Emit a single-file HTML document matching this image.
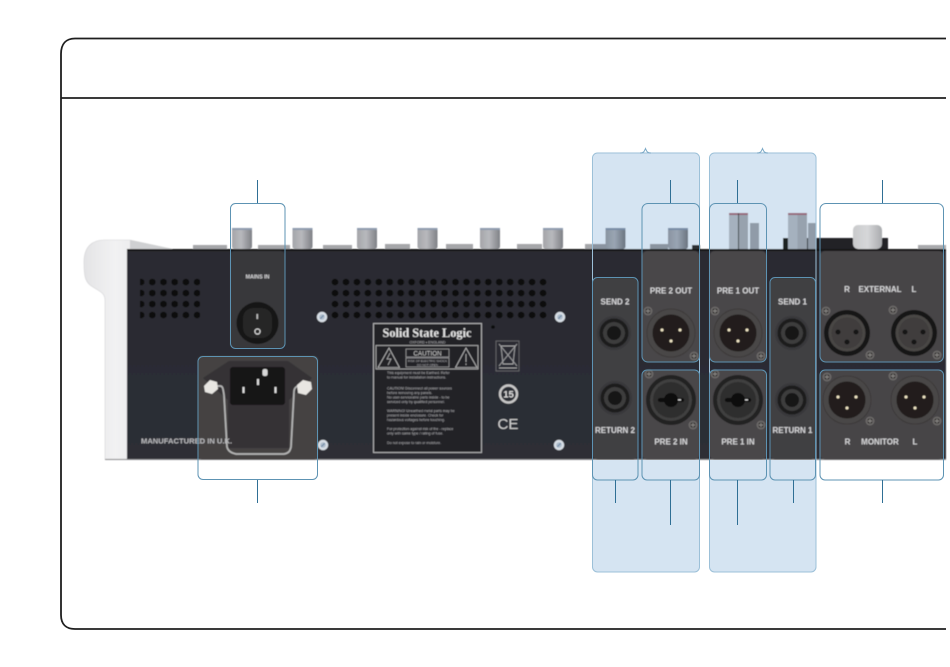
<!DOCTYPE html>
<html><head><meta charset="utf-8"><style>
html,body{margin:0;padding:0;background:#fff;width:950px;height:667px;overflow:hidden}
svg{display:block;position:absolute;left:0;top:0}
.l{font-family:"Liberation Sans",sans-serif;font-weight:bold;font-size:8px;fill:#d6d6d8;text-anchor:middle}
.t{font-family:"Liberation Sans",sans-serif;font-size:3.6px;fill:#b5b5b8}
</style></head><body>
<svg width="950" height="667" viewBox="0 0 950 667" xmlns="http://www.w3.org/2000/svg">
<defs>
<filter id="b" x="-5%" y="-5%" width="110%" height="110%"><feGaussianBlur stdDeviation="0.5"/></filter>
<pattern id="v1" x="135.500" y="276.500" width="11.200" height="11" patternUnits="userSpaceOnUse"><circle cx="5.600" cy="5.500" r="3.300" fill="#0b0b0e"/></pattern>
<pattern id="v2" x="329.500" y="276.500" width="10.950" height="11" patternUnits="userSpaceOnUse"><circle cx="5.500" cy="5.500" r="3.300" fill="#0b0b0e"/></pattern>
<linearGradient id="kn" x1="0" x2="1" y1="0" y2="0"><stop offset="0" stop-color="#a4a5a9"/><stop offset=".45" stop-color="#b8b9bd"/><stop offset="1" stop-color="#7f8186"/></linearGradient>
<linearGradient id="kt" x1="0" x2="1" y1="0" y2="0"><stop offset="0" stop-color="#c9cacc"/><stop offset=".5" stop-color="#d6d7d9"/><stop offset="1" stop-color="#a9abae"/></linearGradient>
<linearGradient id="sd" x1="0" x2="1" y1="0" y2="0"><stop offset="0" stop-color="#e3e3e5"/><stop offset=".35" stop-color="#f2f2f3"/><stop offset="1" stop-color="#dfe0e2"/></linearGradient>
<linearGradient id="pn" x1="0" x2="0" y1="0" y2="1"><stop offset="0" stop-color="#2a2b31"/><stop offset="1" stop-color="#2d2e36"/></linearGradient>
<g id="knob"><rect x="-10" y="-21" width="20" height="21" rx="2.500" fill="url(#kn)"/><rect x="-10" y="-21" width="20" height="2" fill="#8f9bae"/></g>
<g id="screw"><circle r="4.400" fill="#6f6d6c"/><circle r="3" fill="#3d3b3b"/><path d="M-2.300 0H2.300M0-2.300V2.300" stroke="#8a8886" stroke-width=".9"/></g>
<g id="lscrew"><circle r="5.200" fill="#d8dfe6"/><circle r="2.800" fill="#aebccb"/><path d="M-1.800 1.800L1.800-1.800" stroke="#6f8ba6" stroke-width="1.100"/></g>
<g id="male"><circle r="24" fill="#484646" stroke="#3c3a3a"/><circle r="18.500" fill="#201e1a"/><circle cx="-9" cy="-3" r="1.500" fill="#f2e7c6"/><circle cx="9" cy="-3" r="1.500" fill="#f2e7c6"/><circle cy="8" r="1.500" fill="#f2e7c6"/></g>
<g id="female"><circle r="23" fill="#181717"/><circle r="18.500" fill="#484645"/><circle r="15.500" fill="#403e3e"/><circle cx="-9" cy="-1" r="2.500" fill="#171616"/><circle cx="9" cy="-1" r="2.500" fill="#171616"/><circle cy="9" r="2.500" fill="#171616"/></g>
<g id="combo"><circle r="25" fill="#232222"/><circle r="21" fill="#403f3f"/><circle r="18" fill="#2f2e2e"/><circle r="7" fill="#101010"/><rect x="-13" y="-2" width="26" height="4" rx="2" fill="#101010"/><rect x="7" y="-.8" width="3" height="1.300" fill="#ddd"/></g>
<g id="jack"><circle r="17" fill="#39383a"/><circle r="14.500" fill="#1d1d1e"/><circle r="11" fill="#3e3d3e"/><circle r="7" fill="#141415"/></g>
</defs>

<g filter="url(#b)">
<!-- side piece -->
<path d="M105 459V300C105 292 98 291 90 285C85 281 84 275 84 262C84 247 92 240 104 240H130L172 249H127V459Z" fill="url(#sd)" stroke="#d4d4d6" stroke-width=".6"/>
<path d="M130 240L172 249H130Z" fill="#cfd0d2"/>
<!-- caps & knobs -->
<g fill="#a5a6a9">
<rect x="193" y="245" width="34" height="4"/><rect x="258" y="245" width="32" height="4"/><rect x="323" y="245" width="29" height="4"/>
<rect x="385" y="244" width="25" height="5"/><rect x="446" y="244" width="27" height="5"/><rect x="517" y="244" width="25" height="5"/>
<rect x="585" y="244" width="31" height="5"/><rect x="650" y="244" width="18" height="5"/>
</g>
<use href="#knob" x="242" y="249"/><use href="#knob" x="302.500" y="249"/><use href="#knob" x="367" y="249"/><use href="#knob" x="427.500" y="249"/><use href="#knob" x="490" y="249"/><use href="#knob" x="553" y="249"/><use href="#knob" x="615.500" y="249"/><use href="#knob" x="678" y="249"/>
<rect x="692" y="245" width="8" height="4" fill="#333"/>
<!-- pre 1 tall knobs -->
<rect x="729" y="213" width="9" height="36" fill="#c6c6c8"/><rect x="738.500" y="213" width="9.500" height="36" fill="#b5b5b8"/><rect x="729" y="213" width="19" height="2" fill="#b5737f"/><rect x="750" y="223" width="9" height="26" fill="#adaeb1"/>
<rect x="738" y="213" width="1" height="36" fill="#444"/>
<rect x="783" y="238" width="105" height="11" fill="#232326"/>
<rect x="788" y="213" width="9.500" height="36" fill="#c6c6c8"/><rect x="797.500" y="213" width="9.500" height="36" fill="#b5b5b8"/><rect x="788" y="213" width="19" height="2" fill="#b5737f"/><rect x="808" y="223" width="8" height="26" fill="#adaeb1"/>
<rect x="853" y="225" width="29" height="24" rx="5" fill="url(#kt)"/>
<rect x="918" y="245" width="28" height="4" fill="#a8a9ac"/>
<!-- blue regions behind panel -->
<g style="mix-blend-mode:multiply">
<path d="M592.500 249V158a5 5 0 0 1 5-5H694.500a5 5 0 0 1 5 5V249Z" fill="#d5e4f2"/>
<path d="M709.500 249V158a5 5 0 0 1 5-5H811a5 5 0 0 1 5 5V249Z" fill="#d5e4f2"/>
</g>
<!-- panel -->
<rect x="127" y="249" width="819" height="210.500" fill="url(#pn)"/>
<rect x="127" y="249" width="819" height="2" fill="#141416"/>
<rect x="105" y="459" width="841" height="1" fill="#8a8a8c"/>
<!-- lighter boxes -->
<rect x="230" y="251" width="55" height="97" rx="5" fill="#39383b"/>
<rect x="198" y="356" width="120" height="103.500" rx="4" fill="#444243"/>
<rect x="592.500" y="278" width="45.500" height="181.500" rx="5" fill="#403f43"/>
<rect x="642" y="251" width="57.500" height="111" rx="5" fill="#494748"/>
<rect x="642" y="370" width="57.500" height="89.500" rx="5" fill="#494748"/>
<rect x="709.500" y="251" width="57" height="111" rx="5" fill="#494748"/>
<rect x="709.500" y="370" width="57" height="89.500" rx="5" fill="#494748"/>
<rect x="770" y="278" width="46" height="181.500" rx="5" fill="#403f43"/>
<rect x="820" y="251" width="124" height="111" rx="5" fill="#474546"/>
<rect x="820" y="370" width="124" height="89.500" rx="5" fill="#474546"/>
<rect x="140" y="276" width="60" height="45" fill="url(#v1)"/>
<rect x="330" y="276" width="219" height="44" fill="url(#v2)"/>
<use href="#lscrew" x="322" y="317"/><use href="#lscrew" x="323" y="445"/><use href="#lscrew" x="560" y="317"/><use href="#lscrew" x="559" y="445"/>
<!-- rocker -->
<circle cx="257.500" cy="323" r="21" fill="#141414"/><rect x="243" y="308" width="29" height="30" rx="10" fill="#262626"/>
<rect x="256.500" y="314" width="1.600" height="5" fill="#bbb"/><circle cx="257.500" cy="331.500" r="2.600" fill="none" stroke="#ddd" stroke-width="1.100"/>
<text class="l" x="257.500" y="278.500" style="font-size:5.300px">MAINS IN</text>
<!-- power socket -->
<path d="M203 378L229 361H288L312 378L289 400V448H228V400Z" fill="#343334"/>
<rect x="230" y="367" width="55" height="38" rx="3" fill="#141314"/>
<rect x="242.500" y="387" width="2" height="6" fill="#ddd"/><rect x="274.500" y="387" width="2" height="6" fill="#ddd"/><rect x="257" y="379" width="2" height="6" fill="#ddd"/><rect x="262.500" y="369" width="5" height="7" rx="2" fill="#d8d8d8"/>
<path d="M213 386H220C223 386 223 389 224 395L227 447C228 451 231 453 236 454H284C289 453 290 451 291 447L294 392C294 388 296 386 301 385" fill="none" stroke="#b5b5b5" stroke-width="1.700"/>
<path d="M204 386L210 380L217 382L218 389L212 394L205 392Z" fill="#e8e6e2"/><path d="M297 385L303 380L311 382L312 389L306 395L298 393Z" fill="#e8e6e2"/>
<text class="l" x="141" y="443.500" style="text-anchor:start;font-size:7.600px;fill:#b9b9bc">MANUFACTURED IN U.K.</text>
<!-- safety label -->
<rect x="373.500" y="323.500" width="108" height="129" fill="#242428" stroke="#b0b0b2" stroke-width="1"/>
<text x="427" y="337" textLength="89" lengthAdjust="spacingAndGlyphs" style="font-family:'Liberation Serif',serif;font-weight:bold;font-size:13px;fill:#e5e5e5;text-anchor:middle">Solid State Logic</text>
<text class="t" x="427.500" y="343.500" style="text-anchor:middle">OXFORD • ENGLAND</text>
<rect x="376" y="345.500" width="102" height="23.500" fill="none" stroke="#aaa" stroke-width=".9"/>
<path d="M378 367.500L389 348L399.500 367.500ZM455.500 367.500L466 348L477 367.500Z" fill="none" stroke="#bbb" stroke-width=".8"/>
<path d="M390 353L387 359H391L388 365" fill="none" stroke="#bbb" stroke-width=".7"/><path d="M466 354V362M466 363.500V365" stroke="#bbb" stroke-width=".8"/>
<rect x="406" y="349" width="43" height="8" fill="none" stroke="#bbb" stroke-width=".6"/>
<rect x="406" y="358" width="43" height="9" fill="none" stroke="#bbb" stroke-width=".6"/>
<text x="427.500" y="355.500" style="font-family:'Liberation Sans',sans-serif;font-size:6.300px;fill:#ccc;text-anchor:middle">CAUTION</text>
<text class="t" x="427.500" y="362" style="text-anchor:middle;font-size:3px">RISK OF ELECTRIC SHOCK</text>
<text class="t" x="427.500" y="366" style="text-anchor:middle;font-size:3px">DO NOT OPEN</text>
<text class="t" x="387" y="374">This equipment must be Earthed. Refer</text>
<text class="t" x="387" y="378.500">to manual for installation instructions.</text>
<text class="t" x="387" y="389.500">CAUTION! Disconnect all power sources</text>
<text class="t" x="387" y="394">before removing any panels.</text>
<text class="t" x="387" y="398.500">No user-serviceable parts inside - to be</text>
<text class="t" x="387" y="403">serviced only by qualified personnel.</text>
<text class="t" x="387" y="412">WARNING! Unearthed metal parts may be</text>
<text class="t" x="387" y="416.500">present inside enclosure. Check for</text>
<text class="t" x="387" y="421">hazardous voltages before touching.</text>
<text class="t" x="387" y="430">For protection against risk of fire - replace</text>
<text class="t" x="387" y="434.500">only with same type / rating of fuse.</text>
<text class="t" x="387" y="444">Do not expose to rain or moisture.</text>
<circle cx="493" cy="327" r="1.800" fill="#0a0a0a"/>
<!-- WEEE -->
<rect x="496" y="341" width="23" height="30" fill="none" stroke="#77777a" stroke-width=".7"/>
<path d="M501 346H515L513 364H503ZM499 344L517 366M517 344L499 366M499 368H517" fill="none" stroke="#a4a4a6" stroke-width=".9"/>
<circle cx="508.500" cy="394" r="8.500" fill="none" stroke="#c8c8c8" stroke-width="2.400"/>
<text x="508.500" y="397.500" style="font-family:'Liberation Sans',sans-serif;font-weight:bold;font-size:9.500px;fill:#ddd;text-anchor:middle">15</text>
<text x="508" y="429" textLength="21" lengthAdjust="spacingAndGlyphs" style="font-family:'Liberation Sans',sans-serif;font-size:15px;fill:#cfcfcf;text-anchor:middle">CE</text>
<!-- connectors -->
<use href="#jack" x="614" y="333"/><use href="#jack" x="615" y="398"/><use href="#jack" x="792" y="333"/><use href="#jack" x="792" y="400"/>
<use href="#male" x="671" y="333"/><use href="#male" x="738" y="333"/><use href="#male" x="847" y="400"/><use href="#male" x="915" y="400"/>
<use href="#combo" x="671" y="400"/><use href="#combo" x="738" y="400"/>
<use href="#female" x="847" y="333"/><use href="#female" x="914" y="333"/>
<use href="#screw" x="648" y="311"/><use href="#screw" x="694" y="356"/><use href="#screw" x="649" y="374"/><use href="#screw" x="693" y="425"/>
<use href="#screw" x="715" y="311"/><use href="#screw" x="761" y="356"/><use href="#screw" x="715" y="374"/><use href="#screw" x="761" y="425"/>
<use href="#screw" x="826" y="311"/><use href="#screw" x="870" y="355"/><use href="#screw" x="893" y="310"/><use href="#screw" x="937" y="355"/>
<use href="#screw" x="827" y="377"/><use href="#screw" x="870" y="421"/><use href="#screw" x="893" y="376"/><use href="#screw" x="937" y="421"/>
<text class="l" x="615" y="304.500">SEND 2</text>
<text class="l" x="615" y="433">RETURN 2</text>
<text class="l" x="671" y="293.500">PRE 2 OUT</text>
<text class="l" x="671" y="444.500">PRE 2 IN</text>
<text class="l" x="738" y="293.500">PRE 1 OUT</text>
<text class="l" x="738" y="444.500">PRE 1 IN</text>
<text class="l" x="792.500" y="304.500">SEND 1</text>
<text class="l" x="792.500" y="433">RETURN 1</text>
<text class="l" x="847" y="292">R</text><text class="l" x="880" y="292">EXTERNAL</text><text class="l" x="914" y="292">L</text>
<text class="l" x="847.500" y="444.500">R</text><text class="l" x="880" y="444.500">MONITOR</text><text class="l" x="915" y="444.500">L</text>
</g>

<!-- blue regions below panel -->
<path d="M592.500 460V567a5 5 0 0 0 5 5H694.500a5 5 0 0 0 5-5V460Z" fill="#d5e4f2"/>
<path d="M709.500 460V567a5 5 0 0 0 5 5H811a5 5 0 0 0 5-5V460Z" fill="#d5e4f2"/>
<rect x="592.500" y="153" width="107" height="419" rx="5" fill="none" stroke="#9cc0d8" stroke-width="1"/>
<rect x="709.500" y="153" width="106.500" height="419" rx="5" fill="none" stroke="#9cc0d8" stroke-width="1"/>
<path d="M640 153C644 153 644.500 151 645.500 148.500C646.500 151 647 153 651 153M757 153C761 153 761.500 151 762.500 148.500C763.500 151 764 153 768 153" fill="none" stroke="#7aa8c6" stroke-width="1"/>

<!-- outlines -->
<g fill="none" stroke="#5d93b3" stroke-width="1">
<rect x="230.500" y="203.500" width="54.500" height="145" rx="5"/>
<rect x="198" y="356.500" width="119.500" height="123" rx="5"/>
<rect x="592.500" y="277.500" width="45.500" height="202.500" rx="5"/>
<rect x="642" y="203.500" width="57.500" height="158.500" rx="6"/>
<rect x="642" y="370" width="57.500" height="110" rx="5"/>
<rect x="709.500" y="203.500" width="57" height="158.500" rx="6"/>
<rect x="709.500" y="370" width="57" height="110" rx="5"/>
<rect x="770" y="277.500" width="45.500" height="202.500" rx="5"/>
<rect x="820" y="203.500" width="123.500" height="158.500" rx="6"/>
<rect x="820" y="370" width="123.500" height="110" rx="5"/>
</g>
<g stroke="#2f6f95" stroke-width="1" fill="none">
<path d="M257.500 180V203M257.500 480V503M670.500 180V203M737.500 180V203M882.500 180V203"/>
<path d="M615.500 480V503M670.500 480V525M737.500 480V525M793.500 480V503M882.500 480V503"/>
</g>

<!-- frame -->
<path d="M946 38.500H75C66 38.500 61 44 61 54V615C61 624 66 629 75 629H946" fill="none" stroke="#1e1e1e" stroke-width="1.800"/>
<path d="M61 98H946" stroke="#1e1e1e" stroke-width="1.800"/>
</svg>
</body></html>
